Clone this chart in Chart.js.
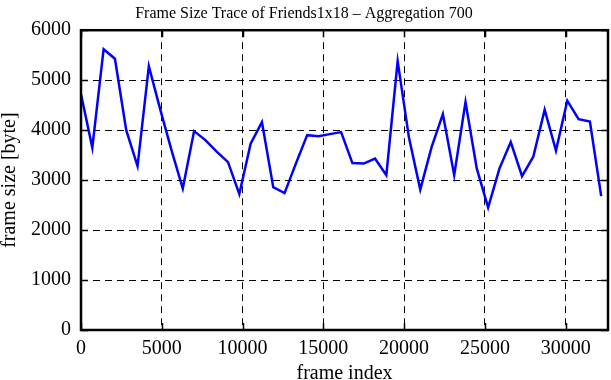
<!DOCTYPE html>
<html>
<head>
<meta charset="utf-8">
<script src="https://cdn.jsdelivr.net/npm/chart.js@4"></script>
<style>
  html, body { margin: 0; padding: 0; background: #fff; }
  #wrap { width: 611px; height: 380px; }
</style>
</head>
<body>
<div id="wrap"><canvas id="traceChart" width="611" height="380"></canvas></div>
<script>
const frameIndex = [
    0, 700, 1400, 2100, 2800, 3500, 4200, 4900, 5600, 6300,
    7000, 7700, 8400, 9100, 9800, 10500, 11200, 11900, 12600, 13300,
    14000, 14700, 15400, 16100, 16800, 17500, 18200, 18900, 19600, 20300,
    21000, 21700, 22400, 23100, 23800, 24500, 25200, 25900, 26600, 27300,
    28000, 28700, 29400, 30100, 30800, 31500, 32200
];
const frameSize = [
    4720, 3650, 5620, 5430, 4000, 3280, 5280, 4420, 3600, 2830,
    3980, 3800, 3570, 3360, 2720, 3730, 4160, 2860, 2740, 3330,
    3900, 3880, 3920, 3960, 3340, 3330, 3430, 3100, 5380, 3850,
    2810, 3660, 4320, 3100, 4560, 3230, 2450, 3230, 3760, 3080,
    3470, 4410, 3590, 4590, 4220, 4170, 2680
];
const xTicks = [0, 5000, 10000, 15000, 20000, 25000, 30000];
const yTicks = [0, 1000, 2000, 3000, 4000, 5000, 6000];
const xMax = 32620;

const FONT = 'Liberation Serif, Times New Roman, serif';

// marco y marcas hacia dentro, estilo gnuplot
const marcoPlugin = {
    id: 'marco',
    afterDatasetsDraw(chart) {
        const ctx = chart.ctx;
        const a = chart.chartArea;
        const sx = chart.scales.x;
        const sy = chart.scales.y;
        ctx.save();
        ctx.strokeStyle = '#000';
        ctx.setLineDash([]);
        ctx.lineWidth = 1.5;
        xTicks.forEach(v => {
            const px = Math.round(sx.getPixelForValue(v)) + 0.5;
            ctx.beginPath();
            ctx.moveTo(px, a.bottom); ctx.lineTo(px, a.bottom - 7);
            ctx.moveTo(px, a.top); ctx.lineTo(px, a.top + 7);
            ctx.stroke();
        });
        yTicks.forEach(v => {
            const py = Math.round(sy.getPixelForValue(v)) + 0.5;
            ctx.beginPath();
            ctx.moveTo(a.left, py); ctx.lineTo(a.left + 7, py);
            ctx.moveTo(a.right, py); ctx.lineTo(a.right - 7, py);
            ctx.stroke();
        });
        ctx.lineWidth = 2.5;
        ctx.strokeRect(a.left, a.top, a.right - a.left, a.bottom - a.top);
        ctx.restore();
    }
};

new Chart(document.getElementById('traceChart').getContext('2d'), {
    type: 'line',
    data: {
        datasets: [{
            data: frameIndex.map((f, i) => ({ x: f, y: frameSize[i] })),
            borderColor: '#0000ff',
            borderWidth: 2.5,
            pointRadius: 0,
            tension: 0,
            fill: false
        }]
    },
    options: {
        responsive: false,
        animation: false,
        layout: { padding: { left: 0, right: 3, top: 0, bottom: 0 } },
        plugins: {
            legend: { display: false },
            tooltip: { enabled: false },
            title: {
                display: true,
                text: 'Frame Size Trace of Friends1x18 \u2013 Aggregation 700',
                color: '#000',
                font: { family: FONT, size: 16, weight: 'normal' },
                padding: { top: 4, bottom: 7 }
            }
        },
        scales: {
            x: {
                type: 'linear',
                min: 0,
                max: xMax,
                afterFit: s => { s.height = 50; },
                afterBuildTicks: s => { s.ticks = xTicks.map(v => ({ value: v })); },
                grid: {
                    color: '#000',
                    lineWidth: 1,
                    drawTicks: false
                },
                border: { display: false, dash: [7, 5] },
                ticks: {
                    color: '#000',
                    padding: 7,
                    maxRotation: 0,
                    font: { family: FONT, size: 20 },
                    callback: v => String(v)
                },
                title: {
                    display: true,
                    text: 'frame index',
                    color: '#000',
                    font: { family: FONT, size: 20 },
                    padding: { top: 0, bottom: -6 }
                }
            },
            y: {
                min: 0,
                max: 6000,
                afterFit: s => { s.width = 81; },
                afterBuildTicks: s => { s.ticks = yTicks.map(v => ({ value: v })); },
                grid: {
                    color: '#000',
                    lineWidth: 1,
                    drawTicks: false
                },
                border: { display: false, dash: [7, 5] },
                ticks: {
                    color: '#000',
                    padding: 10,
                    font: { family: FONT, size: 20 },
                    callback: v => String(v)
                },
                title: {
                    display: true,
                    text: 'frame size [byte]',
                    color: '#000',
                    font: { family: FONT, size: 20 },
                    padding: { top: -2, bottom: 0 }
                }
            }
        }
    },
    plugins: [marcoPlugin]
});
</script>
</body>
</html>
